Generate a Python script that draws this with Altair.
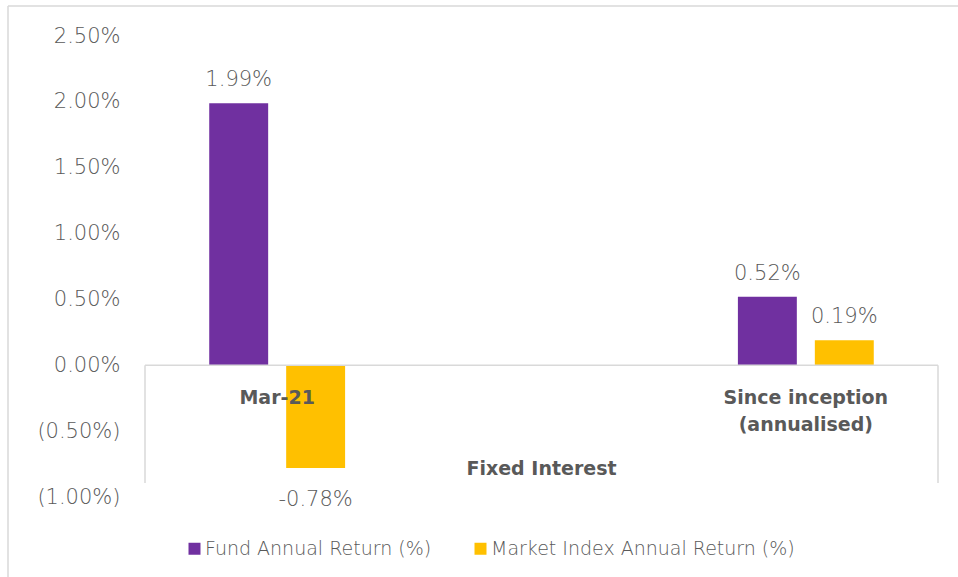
import altair as alt
import pandas as pd

categories = ["Mar-21", "Since inception\n(annualised)"]
series = ["Fund Annual Return (%)", "Market Index Annual Return (%)"]
fund = [1.99, 0.52]
market = [-0.78, 0.19]
colors = ["#7030A0", "#FFC000"]
y_ticks = [-1.0, -0.5, 0.0, 0.5, 1.0, 1.5, 2.0, 2.5]
group_title = "Fixed Interest"

rows = []
for i, c in enumerate(categories):
    for s, vals in zip(series, [fund, market]):
        v = vals[i]
        rows.append({"category": c, "series": s, "value": v, "label": f"{v:.2f}%"})
df = pd.DataFrame(rows)
cats_df = pd.DataFrame({"category": categories})
one = pd.DataFrame({"z": [0]})

W, H = 793, 461
FONT = "DejaVu Sans"
GRAY = "#595959"
LINE = "#D9D9D9"

x_enc = alt.X("category:N", sort=categories,
              scale=alt.Scale(paddingInner=0.743, paddingOuter=0.1215), axis=None)
xo_enc = alt.XOffset("series:N", sort=series,
                     scale=alt.Scale(paddingInner=0.234, paddingOuter=0))
y_enc = alt.Y("value:Q",
              scale=alt.Scale(domain=[-1.0, 2.5], nice=False, zero=False),
              axis=alt.Axis(values=y_ticks, grid=False, domain=False, ticks=False,
                            labelPadding=25, labelFontSize=21, labelFont=FONT,
                            labelFontWeight=300, labelColor=GRAY, title=None,
                            labelExpr="datum.value < 0 ? '(' + format(-datum.value/100, '.2%') + ')' : format(datum.value/100, '.2%')"))

bars = alt.Chart(df).mark_bar().encode(
    x=x_enc, xOffset=xo_enc, y=y_enc,
    color=alt.Color("series:N", sort=series,
                    scale=alt.Scale(domain=series, range=colors),
                    legend=alt.Legend(title=None, orient="none", direction="horizontal",
                                      legendX=40, legendY=503, padding=0,
                                      symbolType="square", symbolSize=144,
                                      symbolStrokeWidth=0, symbolOpacity=1,
                                      labelFont=FONT, labelFontSize=19, labelFontWeight=300,
                                      labelColor=GRAY, labelOffset=1, columnPadding=39,
                                      labelLimit=400)),
)

pos_labels = alt.Chart(df).transform_filter("datum.value >= 0").mark_text(
    baseline="alphabetic", dy=-17, font=FONT, fontSize=21, fontWeight=300, color=GRAY
).encode(x=x_enc, xOffset=xo_enc, y=alt.Y("value:Q"), text="label:N")

neg_labels = alt.Chart(df).transform_filter("datum.value < 0").mark_text(
    baseline="alphabetic", dy=38, font=FONT, fontSize=21, fontWeight=300, color=GRAY
).encode(x=x_enc, xOffset=xo_enc, y=alt.Y("value:Q"), text="label:N")

cat_labels = alt.Chart(cats_df).mark_text(
    baseline="alphabetic", dy=39, font=FONT, fontSize=19, fontWeight="bold",
    color=GRAY, lineBreak="\n", lineHeight=27
).encode(x=alt.X("category:N", sort=categories), y=alt.datum(0), text="category:N")

title_txt = alt.Chart(one).mark_text(
    baseline="alphabetic", font=FONT, fontSize=19, fontWeight="bold", color=GRAY
).encode(x=alt.value(W / 2), y=alt.value(439), text=alt.value(group_title))

zero_line = alt.Chart(one).mark_rule(color=LINE, strokeWidth=1.5).encode(
    x=alt.value(0), x2=alt.value(W), y=alt.datum(0))
left_div = alt.Chart(one).mark_rule(color=LINE, strokeWidth=1.5).encode(
    x=alt.value(0), y=alt.datum(0), y2=alt.value(447))
right_div = alt.Chart(one).mark_rule(color=LINE, strokeWidth=1.5).encode(
    x=alt.value(W), y=alt.datum(0), y2=alt.value(447))
top_border = alt.Chart(one).mark_rule(color=LINE, strokeWidth=1.5).encode(
    x=alt.value(-137), x2=alt.value(813), y=alt.value(-30))
left_border = alt.Chart(one).mark_rule(color=LINE, strokeWidth=1.5).encode(
    x=alt.value(-137), y=alt.value(-30), y2=alt.value(545))

chart = alt.layer(
    bars, zero_line, left_div, right_div, top_border, left_border,
    pos_labels, neg_labels, cat_labels, title_txt
).properties(
    width=W, height=H,
    padding={"left": 145, "top": 36, "right": 20, "bottom": 80},
    autosize=alt.AutoSizeParams(type="none"),
    background="white",
).configure_view(stroke=None)

chart.save("out.html", embed_options={"renderer": "svg", "actions": False})
